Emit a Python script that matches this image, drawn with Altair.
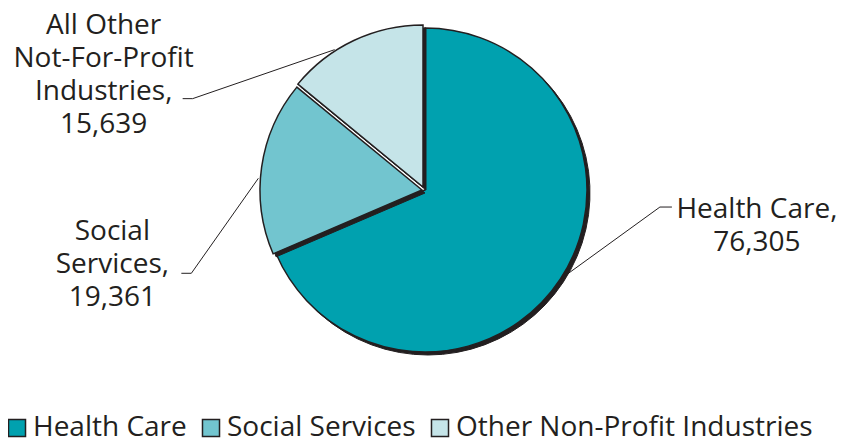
import math
import altair as alt
import pandas as pd

# ---- data ----
categories = ["Health Care", "Social Services", "All Other Not-For-Profit Industries"]
legend_names = ["Health Care", "Social Services", "Other Non-Profit Industries"]
values = [76305, 19361, 15639]
label_names = ["Health Care,", "Social\nServices,", "All Other\nNot-For-Profit\nIndustries,"]

# ---- style (positions / colours, kept apart from data) ----
colors = ["#00a1af", "#72c5cf", "#c5e4e8"]
DARK = "#231f20"
FONT = "Open Sans"
CX, CY, R = 415, 181, 162
RL = 165  # radius where leader lines start
slice_shift = {  # explode offsets per slice (px)
    "Health Care": (2, 1),
    "Social Services": (-1, 1),
    "All Other Not-For-Profit Industries": (0, -2),
}
leader_style = {  # anchor fraction along slice, elbow offset, horizontal tail, text offset
    "Health Care": dict(fr=0.497, ex=98, ey=-71, tx=12, lx=85, ly=11),
    "Social Services": dict(fr=0.43, ex=-67, ey=95, tx=-10, lx=-69, ly=-33),
    "All Other Not-For-Profit Industries": dict(fr=0.36, ex=-142, ey=49, tx=-10, lx=-79, ly=-65),
}

rows = []
for i, c in enumerate(categories):
    st = leader_style[c]
    rows.append(dict(category=c, legend=legend_names[i], value=values[i], order=i,
                     label=label_names[i] + "\n" + f"{values[i]:,}", **st))
df = pd.DataFrame(rows)

base = (
    alt.Chart(df)
    .transform_joinaggregate(total="sum(value)")
    .transform_window(cum="sum(value)", sort=[alt.SortField("order")], frame=[None, 0])
    .transform_calculate(
        start="(datum.cum - datum.value) / datum.total",
        end="datum.cum / datum.total",
    )
    .transform_calculate(mid="(datum.start + datum.fr * (datum.end - datum.start)) * 2 * PI")
    .transform_calculate(
        px=f"{CX} + {RL} * sin(datum.mid)",
        py=f"{CY} - {RL} * cos(datum.mid)",
    )
    .transform_calculate(qx="datum.px + datum.ex", qy="datum.py + datum.ey")
    .transform_calculate(rx="datum.qx + datum.tx", ry="datum.qy")
    .transform_calculate(lxp="datum.rx + datum.lx", lyp="datum.ry + datum.ly")
)

theta_scale = alt.Scale(domain=[0, 1], range=[0, 2 * math.pi])
legend = alt.Legend(
    title=None, orient="none", legendX=-5, legendY=406, direction="horizontal",
    symbolType="square", symbolSize=290, symbolStrokeColor=DARK, symbolStrokeWidth=1.5,
    labelFont=FONT, labelFontSize=28, labelColor=DARK, labelOffset=2,
    columnPadding=10, labelLimit=600, symbolOffset=0, padding=0,
)
color = alt.Color("legend:N", scale=alt.Scale(domain=legend_names, range=colors),
                  legend=legend, sort=legend_names)

layers = []
for c in categories:
    sx, sy = slice_shift[c]
    f = base.transform_filter(alt.datum.category == c)
    shadow = f.mark_arc(fill=DARK, stroke=DARK, strokeWidth=1).encode(
        theta=alt.Theta("start:Q", scale=theta_scale),
        theta2="end:Q",
        radius=alt.value(R),
        x=alt.value(CX + sx + 3),
        y=alt.value(CY + sy + 3),
    )
    face = f.mark_arc(stroke=DARK, strokeWidth=1.5).encode(
        theta=alt.Theta("start:Q", scale=theta_scale),
        theta2="end:Q",
        radius=alt.value(R),
        x=alt.value(CX + sx),
        y=alt.value(CY + sy),
        color=color,
    )
    layers += [shadow, face]

lead1 = base.mark_rule(color=DARK, strokeWidth=1).encode(
    x=alt.X("px:Q", scale=None), y=alt.Y("py:Q", scale=None),
    x2="qx:Q", y2="qy:Q",
)
lead2 = base.mark_rule(color=DARK, strokeWidth=1).encode(
    x=alt.X("qx:Q", scale=None), y=alt.Y("qy:Q", scale=None),
    x2="rx:Q", y2="ry:Q",
)
labels = base.mark_text(
    font=FONT, fontSize=28, color=DARK, align="center", baseline="alphabetic",
    lineBreak="\n", lineHeight=33,
).encode(
    x=alt.X("lxp:Q", scale=None), y=alt.Y("lyp:Q", scale=None), text="label:N",
)

chart = (
    alt.layer(*layers, lead1, lead2, labels)
    .properties(width=830, height=432, autosize=alt.AutoSizeParams(type="none"), padding=0)
    .configure_view(stroke=None)
)

chart.save("out.html", embed_options={"renderer": "svg", "actions": False})
